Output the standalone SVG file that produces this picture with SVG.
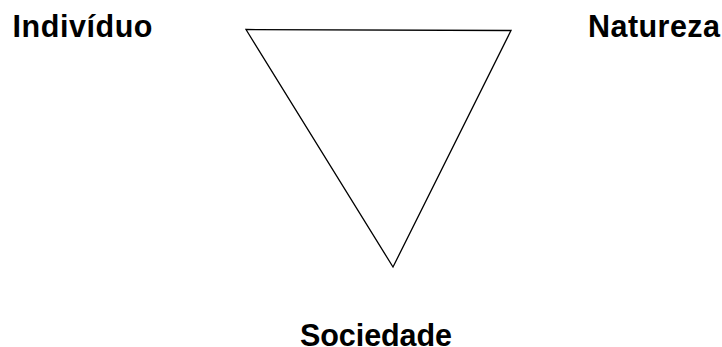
<svg xmlns="http://www.w3.org/2000/svg" width="722" height="347" viewBox="0 0 722 347">
<style>
.lbl{font-family:"Liberation Sans",Arial,sans-serif;font-weight:bold;font-size:30.5px;fill:#000}
.edge{fill:none;stroke:#000;stroke-width:1.3;stroke-linejoin:miter}
</style>
<rect width="722" height="347" fill="#fff"/>
<g id="connectors">
<polygon class="edge" points="246,29.5 511,30.5 393,267"/>
</g>
<g id="individuo"><text class="lbl" x="12.5" y="37.3" textLength="140">Indivíduo</text></g>
<g id="natureza"><text class="lbl" x="588" y="37.3" textLength="132">Natureza</text></g>
<g id="sociedade"><text class="lbl" x="300" y="345.5" textLength="152">Sociedade</text></g>
</svg>
